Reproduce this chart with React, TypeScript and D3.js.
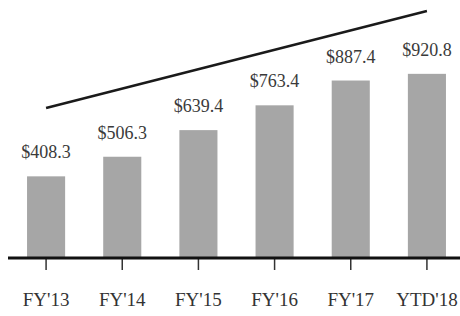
import * as d3 from "d3";

const categories: string[] = ["FY'13", "FY'14", "FY'15", "FY'16", "FY'17", "YTD'18"];
const revenue: number[] = [408.3, 506.3, 639.4, 763.4, 887.4, 920.8];
const valueLabels: string[] = ["$408.3", "$506.3", "$639.4", "$763.4", "$887.4", "$920.8"];
// decorative growth line, start and end in value units
const trendCats: string[] = ["FY'13", "YTD'18"];
const trendValues: number[] = [750, 1235];

const W = 460;
const H = 316;
const baseY = 258;

export default function App() {
    const x = d3.scaleBand<string>()
        .domain(categories)
        .range([8, 465])
        .paddingInner(0.5)
        .paddingOuter(0.25);

    const y = d3.scaleLinear()
        .domain([0, 1000])
        .range([baseY, 58]);

    const cx = (c: string) => (x(c) as number) + x.bandwidth() / 2;

    const trend = d3.line<number>()
        .x((_, i) => cx(trendCats[i]))
        .y(d => y(d));

    return (
        <svg width={W} height={H} style={{ position: "absolute", left: 0, top: 0 }}
            fontFamily="'Liberation Serif', 'DejaVu Serif', serif">
            <path d={trend(trendValues) ?? ""} stroke="#1a1a1a" strokeWidth={2.5} fill="none" />
            {categories.map((c, i) => (
                <g key={c}>
                    <rect x={x(c)} y={y(revenue[i])} width={x.bandwidth()}
                        height={y(0) - y(revenue[i])} fill="#a6a6a6" />
                    <text x={cx(c)} y={y(revenue[i]) - 18} textAnchor="middle"
                        fontSize={18} fill="#3a3a3a">{valueLabels[i]}</text>
                    <line x1={cx(c)} x2={cx(c)} y1={baseY} y2={baseY + 12}
                        stroke="#333" strokeWidth={1.5} />
                    <text x={cx(c)} y={306} textAnchor="middle" fontSize={19}
                        fill="#333">{c}</text>
                </g>
            ))}
            <line x1={8} x2={W} y1={baseY} y2={baseY} stroke="#111" strokeWidth={3} />
        </svg>
    );
}
